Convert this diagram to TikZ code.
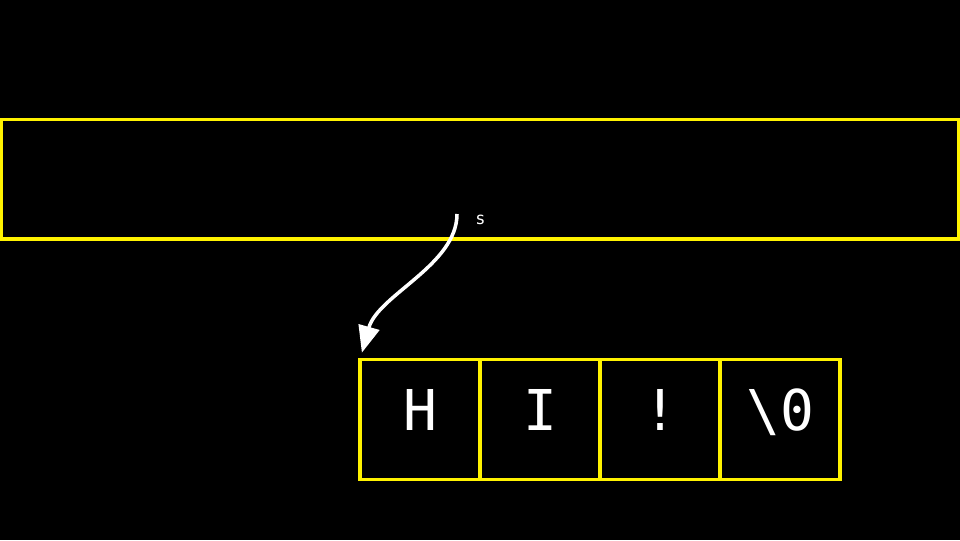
\documentclass[tikz,border=0pt]{standalone}
\usepackage{fontspec}
\setmonofont{DejaVu Sans Mono}
\usetikzlibrary{arrows.meta}
\tikzset{
  cell/.style={draw=yellow, line width=2.6pt, minimum width=3cm, minimum height=3cm,
    inner sep=0, outer sep=0, text=white, font=\ttfamily\fontsize{40}{40}\selectfont,
    text height=29.8pt, text depth=13.5pt},
  ptr/.style={white, line width=2.5pt, -{Triangle[length=19pt,width=15pt]}}
}

\begin{document}
\begin{tikzpicture}[x=0.025cm, y=-0.025cm]
\useasboundingbox[fill=black] (0,0) rectangle (960,540);
% frame
\draw[yellow, line width=2.6pt] (1.5,119.5) rectangle (959,239);
\node[text=white, font=\ttfamily\fontsize{12}{12}\selectfont, anchor=base] (slbl) at (480.5,224) {s};
% string cells
\foreach \ch [count=\i] in {H,I,!,{\textbackslash 0}} {
 \node[cell] (c\i) at (300+120*\i,419.5) {\ch};
}
\coordinate (sptr) at (457,214);
\draw[ptr, shorten >=5pt] (sptr) .. controls (457,265) and (378,295) .. (c1.north west);
\end{tikzpicture}
\end{document}
